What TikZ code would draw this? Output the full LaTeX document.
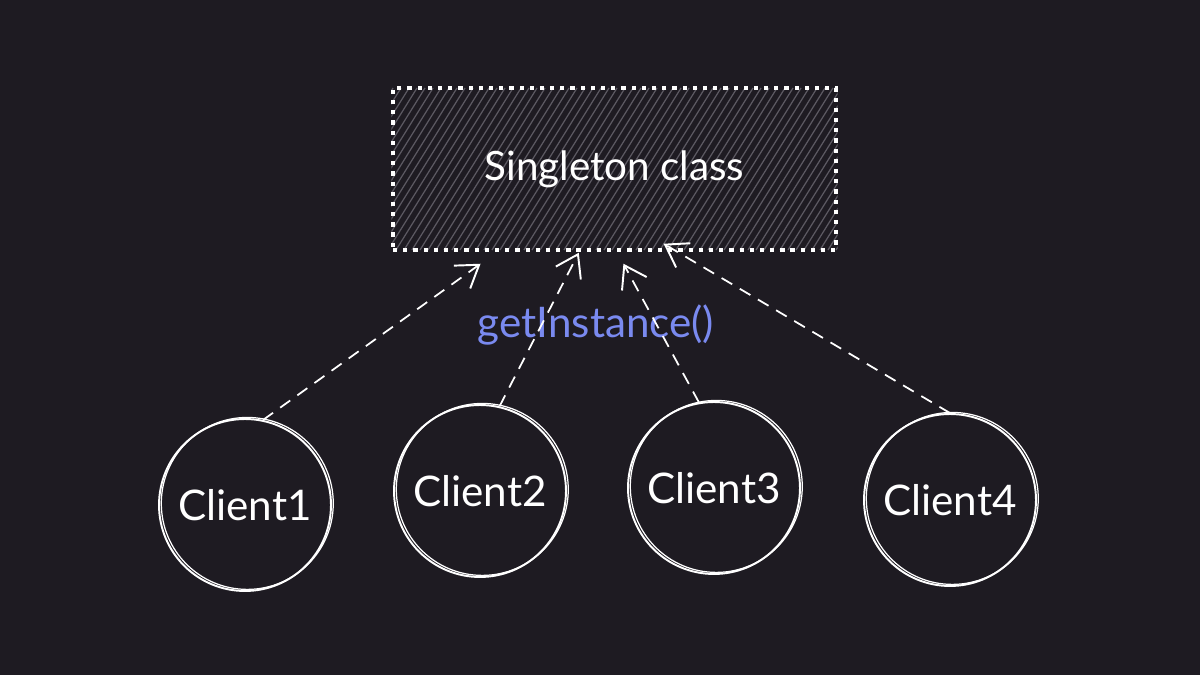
\documentclass[tikz,border=0pt]{standalone}
\usepackage{fontspec}
\setmainfont{Lato}
\usepackage{tikz}
\usetikzlibrary{arrows.meta,calc,backgrounds}
\definecolor{bg}{RGB}{30,27,34}
\definecolor{hatch}{RGB}{92,89,98}
\definecolor{call}{RGB}{122,138,240}

\begin{document}
\begin{tikzpicture}[
    x=0.02cm, y=-0.02cm,
    singleton/.style={rectangle, draw=white, line width=2pt, dash pattern=on 2.4pt off 3.4pt, minimum width=8.86cm, minimum height=3.24cm, text=white, font=\fontsize{23}{27}\selectfont},
    client/.style={circle, draw=white, line width=1.1pt, minimum size=3.44cm, text=white, font=\fontsize{24}{28}\selectfont,
        postaction={draw=white, line width=0.7pt, transform canvas={xshift=1.3pt, yshift=0.9pt}}},
    line/.style={draw=white, line width=1pt, dash pattern=on 7pt off 5pt, -{Straight Barb[length=12pt,width=16pt,line width=1.1pt]}}
]

\node [singleton] (single) at (614.5,169) {Singleton class};

\node [client] (c1) at (245,505) {Client1};
\node [client] (c2) at (480,491) {Client2};
\node [client] (c3) at (714,488) {Client3};
\node [client] (c4) at (950,500) {Client4};

\node [text=call, font=\fontsize{24}{28}\selectfont] (call) at (596,325) {getInstance()};

% arrow heads just under the class box
\coordinate (in1) at ($(single.south west)!0.20!(single.south east)+(0,12)$);
\coordinate (in2) at ($(single.south west)!0.42!(single.south east)+(0,1)$);
\coordinate (in3) at ($(single.south west)!0.52!(single.south east)+(0,12)$);
\coordinate (in4) at ($(single.south west)!0.61!(single.south east)+(0,-8)$);

\path [line] (c1.78) -- (in1);
\path [line] (c2.77) -- (in2);
\path [line] (c3.100) -- (in3);
\path [line] (c4.90) -- (in4);

\begin{scope}[on background layer]
\fill [bg] (0,0) rectangle (1200,675);
\clip (single.south west) rectangle (single.north east);
\foreach \i in {0,...,70}
    \draw [hatch, line width=0.7pt] (292+\i*8,250) -- ++(101,-162);
\end{scope}

\end{tikzpicture}
\end{document}
